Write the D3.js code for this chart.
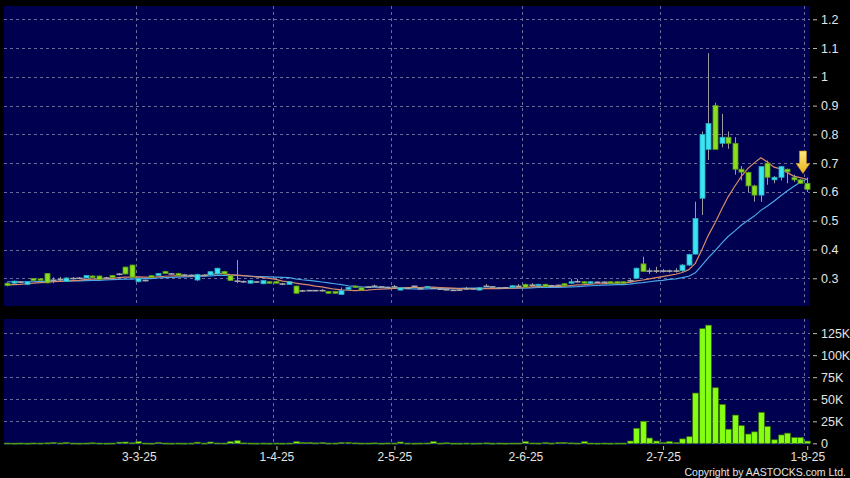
<!DOCTYPE html>
<html><head><meta charset="utf-8">
<script src="https://cdn.jsdelivr.net/npm/d3@7"></script>
<style>
html,body{margin:0;padding:0;background:#000;}
svg{display:block;}
text{font-family:"Liberation Sans",Arial,sans-serif;}
</style></head>
<body>
<svg id="c" width="850" height="478"></svg>
<script>
// ---- DATA ----
const opens  = [0.283,0.283,0.286,0.279,0.299,0.298,0.317,0.293,0.296,0.289,0.299,0.300,0.301,0.308,0.308,0.301,0.310,0.314,0.339,0.346,
0.288,0.292,0.309,0.310,0.324,0.315,0.317,0.311,0.310,0.294,0.310,0.311,0.315,0.324,0.309,0.290,0.288,0.283,0.287,0.281,
0.288,0.289,0.280,0.279,0.273,0.256,0.257,0.257,0.257,0.254,0.254,0.244,0.262,0.273,0.267,0.269,0.272,0.270,0.268,0.270,
0.259,0.265,0.272,0.264,0.267,0.265,0.262,0.260,0.258,0.259,0.263,0.263,0.259,0.272,0.270,0.266,0.267,0.268,0.272,0.279,
0.276,0.275,0.279,0.274,0.275,0.281,0.283,0.288,0.288,0.283,0.286,0.286,0.288,0.288,0.288,0.291,0.300,0.350,0.325,0.325,
0.325,0.325,0.325,0.326,0.346,0.384,0.578,0.748,0.900,0.769,0.790,0.769,0.679,0.668,0.621,0.589,0.700,0.642,0.651,0.679,
0.650,0.642,0.630];
const highs  = [0.286,0.292,0.290,0.290,0.301,0.300,0.318,0.303,0.305,0.303,0.304,0.304,0.311,0.310,0.309,0.305,0.311,0.318,0.340,0.347,
0.301,0.296,0.310,0.318,0.326,0.318,0.319,0.314,0.313,0.316,0.313,0.324,0.336,0.326,0.311,0.364,0.292,0.293,0.290,0.293,
0.290,0.290,0.284,0.289,0.274,0.260,0.260,0.259,0.262,0.256,0.255,0.268,0.270,0.275,0.269,0.272,0.278,0.273,0.271,0.277,
0.268,0.268,0.274,0.267,0.273,0.268,0.265,0.263,0.261,0.262,0.270,0.266,0.268,0.280,0.273,0.269,0.270,0.276,0.280,0.281,
0.283,0.281,0.281,0.277,0.278,0.283,0.298,0.298,0.290,0.290,0.289,0.289,0.290,0.290,0.289,0.297,0.337,0.375,0.335,0.340,
0.332,0.330,0.335,0.350,0.385,0.566,0.810,1.082,0.910,0.871,0.810,0.790,0.690,0.670,0.625,0.690,0.709,0.655,0.690,0.681,
0.660,0.645,0.650];
const lows   = [0.272,0.280,0.283,0.276,0.291,0.294,0.283,0.283,0.290,0.287,0.296,0.297,0.300,0.300,0.295,0.298,0.302,0.310,0.314,0.303,
0.286,0.289,0.302,0.309,0.316,0.313,0.309,0.309,0.308,0.291,0.307,0.310,0.314,0.314,0.291,0.283,0.284,0.282,0.284,0.280,
0.282,0.282,0.276,0.278,0.247,0.253,0.255,0.255,0.254,0.247,0.247,0.243,0.260,0.268,0.258,0.266,0.269,0.268,0.266,0.268,
0.258,0.263,0.268,0.262,0.266,0.263,0.260,0.259,0.257,0.257,0.261,0.261,0.258,0.270,0.268,0.264,0.265,0.267,0.270,0.268,
0.274,0.274,0.270,0.272,0.273,0.273,0.282,0.285,0.282,0.282,0.284,0.284,0.282,0.282,0.282,0.288,0.298,0.322,0.315,0.318,
0.320,0.320,0.320,0.323,0.343,0.383,0.520,0.711,0.748,0.755,0.750,0.660,0.640,0.600,0.566,0.566,0.625,0.630,0.640,0.630,
0.635,0.628,0.600];
const closes = [0.275,0.290,0.286,0.288,0.292,0.295,0.284,0.293,0.296,0.301,0.299,0.300,0.310,0.302,0.296,0.301,0.303,0.314,0.315,0.304,
0.300,0.292,0.303,0.317,0.317,0.315,0.310,0.311,0.310,0.313,0.310,0.323,0.335,0.315,0.292,0.290,0.288,0.292,0.287,0.292,
0.283,0.283,0.280,0.288,0.248,0.256,0.257,0.257,0.257,0.248,0.248,0.257,0.269,0.269,0.259,0.269,0.272,0.270,0.268,0.270,
0.267,0.265,0.272,0.264,0.272,0.265,0.262,0.260,0.258,0.259,0.263,0.263,0.267,0.272,0.270,0.266,0.267,0.274,0.272,0.269,
0.276,0.279,0.271,0.274,0.275,0.274,0.288,0.288,0.283,0.288,0.286,0.286,0.283,0.283,0.283,0.291,0.335,0.324,0.325,0.325,
0.325,0.325,0.325,0.346,0.383,0.508,0.800,0.838,0.748,0.790,0.769,0.679,0.669,0.621,0.589,0.688,0.651,0.651,0.688,0.670,
0.642,0.630,0.609];
const volumesK = [0.3,0.2,0.3,0.2,0.4,0.3,0.5,1.0,0.4,1.0,0.3,0.2,0.3,0.6,0.3,0.2,0.3,1.3,1.5,0.6,
2.0,0.3,0.2,1.0,0.3,0.2,0.3,0.2,0.3,1.3,0.3,1.5,0.4,0.3,2.0,3.0,0.5,0.3,0.2,0.3,
0.2,0.3,0.2,0.3,2.0,1.0,1.0,0.5,1.0,0.3,0.3,1.0,1.0,0.5,0.3,0.3,0.5,0.2,0.4,0.3,
1.5,0.3,0.2,0.3,0.4,2.0,0.3,0.6,0.2,0.2,0.3,0.2,0.3,0.5,0.2,0.3,0.2,0.3,0.3,2.0,
0.4,0.3,0.8,0.3,1.0,1.0,0.5,0.3,2.0,0.3,0.2,0.3,0.2,0.3,0.3,2.6,17,25,6,2.6,
1,2,1,5,7.5,57,130,134,63,44,16,32,20,10.5,13,35,19,4,9.5,11.5,
6.5,6.5,2.5];
const ma10 = [0.277,0.278,0.279,0.281,0.283,0.285,0.286,0.288,0.289,0.290,0.292,0.293,0.296,0.297,0.298,0.298,0.300,0.302,0.304,0.304,
0.305,0.304,0.303,0.305,0.307,0.308,0.309,0.308,0.308,0.309,0.310,0.313,0.316,0.316,0.313,0.311,0.309,0.307,0.305,0.302,
0.300,0.296,0.290,0.288,0.283,0.280,0.277,0.273,0.270,0.266,0.262,0.260,0.259,0.257,0.258,0.259,0.261,0.262,0.263,0.265,
0.267,0.268,0.268,0.268,0.269,0.269,0.268,0.267,0.266,0.264,0.264,0.264,0.263,0.264,0.264,0.264,0.265,0.266,0.267,0.268,
0.270,0.271,0.272,0.272,0.272,0.273,0.275,0.277,0.278,0.280,0.281,0.281,0.283,0.283,0.284,0.286,0.291,0.294,0.298,0.302,
0.306,0.310,0.314,0.320,0.330,0.352,0.399,0.450,0.492,0.539,0.583,0.619,0.653,0.681,0.701,0.719,0.704,0.686,0.680,0.668,
0.655,0.650,0.644];
const ma20 = [0.288,0.288,0.288,0.288,0.288,0.289,0.289,0.289,0.290,0.290,0.291,0.291,0.292,0.293,0.293,0.294,0.295,0.296,0.297,0.297,
0.299,0.299,0.299,0.301,0.302,0.303,0.304,0.305,0.306,0.307,0.307,0.308,0.310,0.310,0.310,0.310,0.309,0.308,0.306,0.306,
0.305,0.304,0.303,0.302,0.298,0.295,0.293,0.290,0.287,0.284,0.281,0.278,0.274,0.272,0.270,0.269,0.269,0.268,0.267,0.265,
0.265,0.264,0.263,0.262,0.263,0.264,0.264,0.264,0.264,0.265,0.266,0.266,0.266,0.266,0.266,0.266,0.266,0.266,0.266,0.266,
0.267,0.268,0.268,0.268,0.268,0.269,0.270,0.271,0.273,0.274,0.275,0.276,0.277,0.278,0.278,0.280,0.283,0.285,0.288,0.291,
0.293,0.296,0.298,0.302,0.307,0.319,0.345,0.372,0.395,0.421,0.445,0.464,0.484,0.501,0.516,0.536,0.551,0.568,0.586,0.603,
0.619,0.634,0.645];
const priceTicks = [0.3,0.4,0.5,0.6,0.7,0.8,0.9,1.0,1.1,1.2];
const volumeTicksK = [0,25,50,75,100,125];
const dateTickIndex = [20,41,59,79,100,122];
const dateTickLabels = ["3-3-25","1-4-25","2-5-25","2-6-25","2-7-25","1-8-25"];
const copyright = "Copyright by AASTOCKS.com Ltd.";

// ---- LAYOUT ----
const n = closes.length;
const L = 4, R = 810;
const mainTop = 6, mainBot = 306, volTop = 319, volBot = 445;
const svg = d3.select("#c");
svg.append("rect").attr("width",850).attr("height",478).attr("fill","#000");

const x = d3.scaleBand().domain(d3.range(n)).range([L, R]).paddingInner(0.15).paddingOuter(0.075);
const cx = i => x(i) + x.bandwidth()/2;
const y = d3.scaleLinear().domain([0.2037, 1.2461]).range([mainBot, mainTop]);
const yv = d3.scaleLinear().domain([-1.9, 141]).range([volBot, volTop]);

const navy = "#000050";
const gridCol = "#6b6b98";
svg.append("rect").attr("x",L).attr("y",mainTop).attr("width",R-L).attr("height",mainBot-mainTop).attr("fill",navy);
svg.append("rect").attr("x",L).attr("y",volTop).attr("width",R-L).attr("height",volBot-volTop).attr("fill",navy);

const grid = svg.append("g").attr("stroke",gridCol).attr("stroke-width",1).attr("stroke-dasharray","3,3").attr("fill","none");
priceTicks.forEach(t => grid.append("line").attr("x1",L).attr("x2",R).attr("y1",Math.round(y(t))+0.5).attr("y2",Math.round(y(t))+0.5));
volumeTicksK.forEach(t => grid.append("line").attr("x1",L).attr("x2",R).attr("y1",Math.round(yv(t))+0.5).attr("y2",Math.round(yv(t))+0.5));
dateTickIndex.forEach(i => {
  const gx = Math.round(cx(i) - 2.7) + 0.5;
  grid.append("line").attr("x1",gx).attr("x2",gx).attr("y1",mainTop).attr("y2",mainBot);
  grid.append("line").attr("x1",gx).attr("x2",gx).attr("y1",volTop).attr("y2",volBot);
});

// ---- MA lines ----
const line = arr => d3.line().x((d,i)=>cx(i)).y(d=>y(d))(arr);
svg.append("path").attr("d",line(ma20)).attr("fill","none").attr("stroke","#4aa6e6").attr("stroke-width",1.2);
svg.append("path").attr("d",line(ma10)).attr("fill","none").attr("stroke","#d98a66").attr("stroke-width",1.2);

// ---- Candles ----
const cg = svg.append("g");
const bw = 5;
for (let i=0;i<n;i++){
  const o=opens[i], h=highs[i], l=lows[i], c=closes[i];
  const X = Math.round(cx(i));
  cg.append("line").attr("x1",X+0.5).attr("x2",X+0.5).attr("y1",y(h)).attr("y2",y(l)).attr("stroke","#9c9c9c").attr("stroke-width",1);
  if (o===c){
    cg.append("line").attr("x1",X-2.5).attr("x2",X+3.5).attr("y1",y(o)).attr("y2",y(o)).attr("stroke","#a9a9a9").attr("stroke-width",1.6);
  } else {
    const up = c>o;
    const top = y(Math.max(o,c)), bot = y(Math.min(o,c));
    cg.append("rect").attr("x",X-2).attr("y",top).attr("width",bw).attr("height",Math.max(1.5,bot-top))
      .attr("fill", up ? "#3ae4f2" : "#88de1f")
      .attr("stroke", up ? "#2aa9bd" : "#5a9a14").attr("stroke-width",0.8);
  }
}

// ---- Volume ----
const vg = svg.append("g");
volumesK.forEach((v,i)=>{
  const X = Math.round(cx(i));
  const top = yv(v), bot = yv(0);
  vg.append("rect").attr("x",X-2.3).attr("y",top).attr("width",5.6).attr("height",Math.max(1,bot-top))
    .attr("fill","#86ff12").attr("stroke","#3f7d06").attr("stroke-width",0.7);
});

// ---- Arrow ----
const defs = svg.append("defs");
const grad = defs.append("linearGradient").attr("id","ag").attr("x1",0).attr("x2",0).attr("y1",0).attr("y2",1);
grad.append("stop").attr("offset","0%").attr("stop-color","#ffe97a");
grad.append("stop").attr("offset","100%").attr("stop-color","#e8b020");
const ax = (cx(121)+cx(122))/2 - 0.5;
const aTop = y(0.9)+45.5, aMid = aTop+12.5, aTip = aTop+22.5;
svg.append("path").attr("d",`M${ax-3.5},${aTop} L${ax+3.5},${aTop} L${ax+3.5},${aMid} L${ax+6.8},${aMid} L${ax},${aTip} L${ax-6.8},${aMid} L${ax-3.5},${aMid} Z`)
  .attr("fill","url(#ag)").attr("stroke","#c89010").attr("stroke-width",0.6);

// ---- Axes ----
const txt = "#e4e4e4";
const ay = d3.axisRight(y).tickValues(priceTicks).tickSize(4).tickPadding(4).tickFormat(d=>d3.format("")(+d.toFixed(1)));
const gy = svg.append("g").attr("transform",`translate(${R+3},0)`).call(ay);
const avol = d3.axisRight(yv).tickValues(volumeTicksK).tickSize(4).tickPadding(4).tickFormat(d=> d===0 ? "0" : d+"K");
const gv = svg.append("g").attr("transform",`translate(${R+3},0)`).call(avol);
const ax2 = d3.axisBottom(d3.scaleLinear().domain([0,n-1]).range([cx(0),cx(n-1)]))
  .tickValues(dateTickIndex).tickSize(4).tickPadding(2).tickFormat((d,k)=>dateTickLabels[k]);
const gx = svg.append("g").attr("transform",`translate(0.5,${volBot+1})`).call(ax2);
[gy,gv].forEach(g=>{
  g.select(".domain").remove();
  g.selectAll(".tick line").attr("stroke","#bbbbbb");
  g.selectAll("text").attr("fill",txt).style("font-size","12.5px").style("font-family","'Liberation Sans',Arial,sans-serif");
});
gx.select(".domain").remove();
gx.selectAll(".tick line").attr("stroke","#bbbbbb");
gx.selectAll("text").attr("fill",txt).style("font-size","12px").style("font-family","'Liberation Sans',Arial,sans-serif");
svg.append("text").attr("x",846).attr("y",475.5).attr("text-anchor","end").attr("fill",txt)
  .style("font-size","10.5px").text(copyright);
</script>
</body></html>
